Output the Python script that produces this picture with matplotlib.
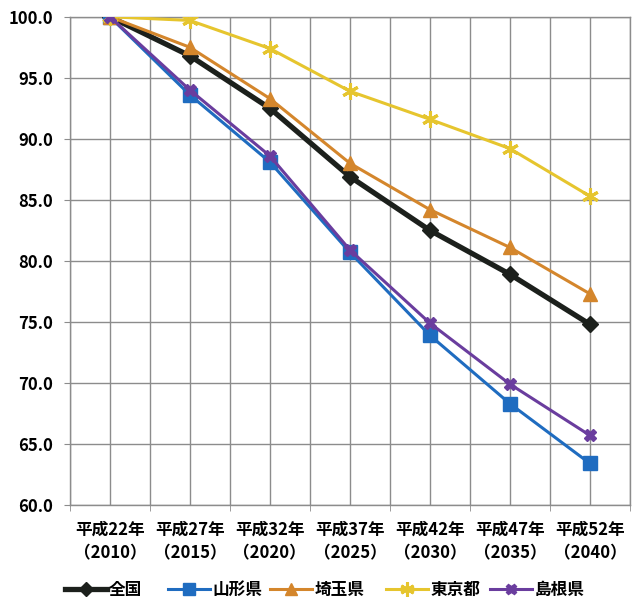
import matplotlib
matplotlib.use("Agg")
import matplotlib.pyplot as plt
import numpy as np

plt.rcParams['font.family'] = ['Noto Sans CJK JP', 'DejaVu Sans']

categories = ["平成22年\n（2010）", "平成27年\n（2015）", "平成32年\n（2020）",
              "平成37年\n（2025）", "平成42年\n（2030）", "平成47年\n（2035）",
              "平成52年\n（2040）"]

zenkoku   = [100.0, 96.8, 92.5, 86.9, 82.5, 78.9, 74.8]
yamagata  = [100.0, 93.6, 88.1, 80.7, 73.9, 68.3, 63.4]
saitama   = [100.0, 97.5, 93.3, 88.0, 84.2, 81.1, 77.3]
tokyo     = [100.0, 99.7, 97.4, 93.9, 91.6, 89.2, 85.3]
shimane   = [100.0, 94.0, 88.6, 80.9, 74.9, 69.9, 65.7]

series = [
    ("全国", zenkoku, "#1c201c", "D", 3.8, 8),
    ("山形県", yamagata, "#1f6cc0", "s", 2.2, 10),
    ("埼玉県", saitama, "#d4862c", "^", 2.2, 10),
    ("東京都", tokyo, "#e6c52e", (6, 2, 0), 2.2, 12),
    ("島根県", shimane, "#6a3d9e", "X", 2.2, 9),
]

# left edge (in pixels) of each legend entry along the bottom row
legend_x = [65, 168, 270, 386, 490]

fig = plt.figure(figsize=(6.35, 5.99), dpi=100)
ax = fig.add_axes([0.110, 0.157, 0.882, 0.815])

x = np.arange(len(categories))
lines = []
for name, vals, color, marker, lw, ms in series:
    ln, = ax.plot(x, vals, color=color, linewidth=lw, marker=marker, markersize=ms,
                  markeredgecolor=color,
                  markeredgewidth=2.2 if marker == (6, 2, 0) else 1,
                  label=name, zorder=3)
    lines.append(ln)

ax.set_xlim(-0.5, len(categories) - 0.5)
ax.set_ylim(60, 100)
yt = np.arange(60, 100.1, 5)
ax.set_yticks(yt)
ax.set_yticklabels([f"{v:.1f}" for v in yt], fontsize=12, fontweight='bold')
ax.set_xticks(x)
ax.set_xticklabels(categories, fontsize=12, fontweight='bold', linespacing=1.45)
ax.set_xticks(np.arange(-0.5, len(categories), 1.0), minor=True)

ax.grid(True, which='major', color='#8c8c8c', linewidth=1.0)
ax.grid(True, which='minor', axis='x', color='#8c8c8c', linewidth=1.0)
ax.tick_params(axis='x', which='major', length=0, pad=11)
ax.tick_params(axis='x', which='minor', length=4, color='#8c8c8c')
ax.tick_params(axis='y', length=4, color='#8c8c8c', pad=8)
for s in ax.spines.values():
    s.set_color('#8c8c8c')
    s.set_linewidth(1.0)

W, H = 635, 599
for ln, lx in zip(lines, legend_x):
    fig.legend(handles=[ln], loc='center left',
               bbox_to_anchor=(lx / W, 1 - 590 / H), frameon=False,
               prop={'weight': 'bold', 'size': 12}, borderpad=0,
               borderaxespad=0, handlelength=2.5, handletextpad=0.15,
               markerscale=0.85)

fig.savefig("out.png", dpi=100)
